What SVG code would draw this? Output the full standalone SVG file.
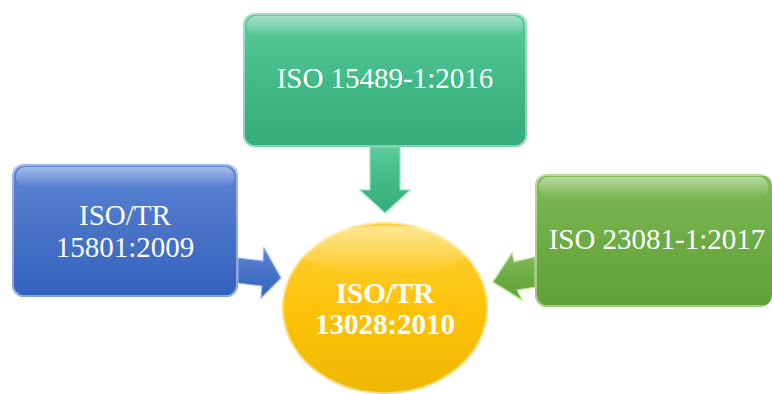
<svg xmlns="http://www.w3.org/2000/svg" width="772" height="394" viewBox="0 0 772 394">
<defs>
<linearGradient id="gTeal" x1="0" y1="0" x2="0" y2="1"><stop offset="0" stop-color="#5ccb9d"/><stop offset="0.5" stop-color="#42ba88"/><stop offset="1" stop-color="#33ad7b"/></linearGradient>
<linearGradient id="gBlue" x1="0" y1="0" x2="0" y2="1"><stop offset="0" stop-color="#5c86d6"/><stop offset="0.5" stop-color="#4772c6"/><stop offset="1" stop-color="#3362be"/></linearGradient>
<linearGradient id="gGreen" x1="0" y1="0" x2="0" y2="1"><stop offset="0" stop-color="#80bb58"/><stop offset="0.5" stop-color="#6dac44"/><stop offset="1" stop-color="#5fa236"/></linearGradient>
<linearGradient id="gYellow" x1="0" y1="0" x2="0" y2="1"><stop offset="0" stop-color="#ffd23c"/><stop offset="0.5" stop-color="#fdc30a"/><stop offset="1" stop-color="#eeb700"/></linearGradient>
<linearGradient id="gShine" x1="0" y1="0" x2="0" y2="1"><stop offset="0" stop-color="#ffffff" stop-opacity="0.45"/><stop offset="1" stop-color="#ffffff" stop-opacity="0"/></linearGradient>
</defs>
<style>
.t{font-family:"Liberation Serif","Times New Roman",serif;fill:#ffffff;font-size:29px;text-anchor:middle}
.b{font-weight:bold}
.edge{stroke:#ffffff;stroke-opacity:0.55;stroke-width:1.5;fill:none}
</style>
<g id="connectors">
<polygon points="370,147 400,147 400,190 410,190 385,213 360,190 370,190" fill="url(#gTeal)" stroke="#8fe6c0" stroke-width="1.2"/>
<polygon points="238,258 263,261 264,248 281,278 261,298 262,286 238,283" fill="url(#gBlue)" stroke="#8fb0ee" stroke-width="1.2"/>
<polygon points="535,257 535,287 517,290 522,300 493,282 512,253 514,262" fill="url(#gGreen)" stroke="#b6e090" stroke-width="1.2"/>
</g>
<g id="node-iso15489">
<rect x="243" y="13" width="284" height="134" rx="12" fill="url(#gTeal)"/>
<rect x="247" y="16" width="276" height="20" rx="9" fill="url(#gShine)"/>
<rect x="244" y="14" width="282" height="132" rx="11" class="edge"/>
<text class="t" x="385" y="88">ISO 15489-1:2016</text>
</g>
<g id="node-iso15801">
<rect x="12" y="164" width="226" height="133" rx="12" fill="url(#gBlue)"/>
<rect x="16" y="167" width="218" height="20" rx="9" fill="url(#gShine)"/>
<rect x="13" y="165" width="224" height="131" rx="11" class="edge"/>
<text class="t" x="125" y="225">ISO/TR</text>
<text class="t" x="125" y="257">15801:2009</text>
</g>
<g id="node-iso23081">
<rect x="535" y="174" width="237" height="133" rx="12" fill="url(#gGreen)"/>
<rect x="539" y="177" width="229" height="20" rx="9" fill="url(#gShine)"/>
<rect x="536" y="175" width="240" height="131" rx="11" class="edge"/>
<text class="t" x="657" y="249">ISO 23081-1:2017</text>
</g>
<g id="node-iso13028">
<ellipse cx="385" cy="308" rx="103" ry="86" fill="url(#gYellow)"/>
<ellipse cx="385" cy="250" rx="85" ry="24" fill="url(#gShine)"/>
<ellipse cx="385" cy="308" rx="102" ry="85" class="edge"/>
<text class="t b" x="385" y="303">ISO/TR</text>
<text class="t b" x="385" y="334">13028:2010</text>
</g>
</svg>
